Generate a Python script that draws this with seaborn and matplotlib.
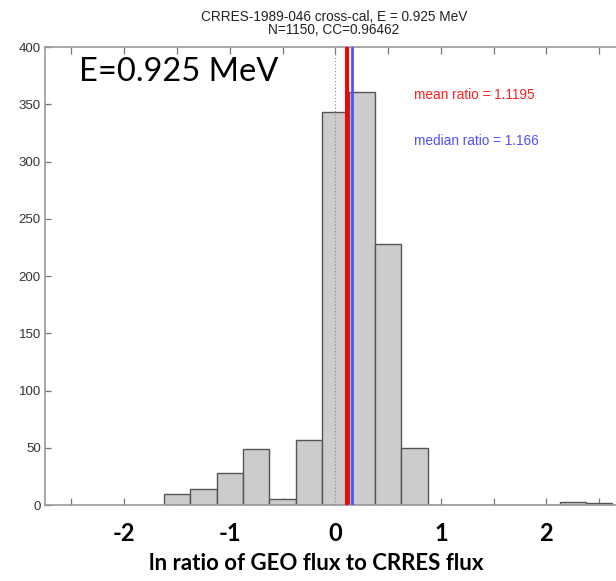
import numpy as np
import pandas as pd
import matplotlib
matplotlib.use("Agg")
import matplotlib.pyplot as plt
import seaborn as sns

# ---- data ----
bin_centers = [-1.5, -1.25, -1.0, -0.75, -0.5, -0.25, 0.0, 0.25, 0.5, 0.75,
               1.0, 1.25, 1.5, 1.75, 2.0, 2.25, 2.5]
counts = [10, 14, 28, 49, 5, 57, 343, 361, 228, 50,
          0, 0, 0, 0, 0, 3, 2]
bin_width = 0.25
mean_ratio = 1.1195
median_ratio = 1.166
title_lines = ["CRRES-1989-046 cross-cal, E = 0.925 MeV", "N=1150, CC=0.96462"]
x_ticklabels = ["-2", "-1", "0", "1", "2"]
x_tickvals = [-2, -1, 0, 1, 2]
y_ticks = [0, 50, 100, 150, 200, 250, 300, 350, 400]
energy_label = "E=0.925 MeV"
xlabel = "ln ratio of GEO flux to CRRES flux"

df = pd.DataFrame({"x": bin_centers, "n": counts})
edges = [c - bin_width / 2 for c in bin_centers] + [bin_centers[-1] + bin_width / 2]

sns.set_style("white")
plt.rcParams["font.family"] = ["Liberation Sans", "DejaVu Sans"]

fig = plt.figure(figsize=(6.16, 5.81), dpi=100)
ax = fig.add_axes([0.0731, 0.1308, 0.9425, 0.788])

sns.histplot(data=df, x="x", weights="n", bins=edges, ax=ax,
             color="#cccccc", edgecolor="#555555", linewidth=1.0, alpha=1.0)

ax.axvline(0, color="#888888", linestyle=(0, (1, 2)), linewidth=0.8, zorder=3)
ax.axvline(np.log(mean_ratio), color="#ff0000", linewidth=2.9, zorder=4)
ax.axvline(np.log(median_ratio), color="#5050ff", linewidth=2.0, zorder=4)

ax.set_xlim(-2.75, 2.75)
ax.set_ylim(0, 400)
ax.set_yticks(y_ticks)
ax.set_yticklabels([str(v) for v in y_ticks], fontsize=9.5, color="#333333")
ax.set_xticks(x_tickvals)
ax.set_xticklabels(x_ticklabels, fontsize=17, fontweight="bold",
                   family=["Lato", "DejaVu Sans"], color="black")
ax.set_xticks([-2.5, -1.5, -0.5, 0.5, 1.5, 2.5], minor=True)
ax.tick_params(axis="both", which="both", direction="in", top=True, right=True,
               bottom=True, left=True, color="#777777", width=0.9)
ax.tick_params(axis="x", which="both", length=5, pad=12)
ax.tick_params(axis="y", length=4, pad=3)
for s in ax.spines.values():
    s.set_color("#999999")
    s.set_linewidth(1.2)

ax.set_xlabel(xlabel, fontsize=16, fontweight="bold",
              family=["Lato", "DejaVu Sans"], color="black")
ax.xaxis.set_label_coords((316 - 45) / 580.6, -0.105)
ax.set_ylabel("")

fig.text(334 / 616, 1 - 17 / 581, title_lines[0], ha="center", va="center",
         fontsize=9.8, color="#222222")
fig.text(334 / 616, 1 - 30 / 581, title_lines[1], ha="center", va="center",
         fontsize=9.8, color="#222222")

ax.text(0.058, 0.978, energy_label, transform=ax.transAxes, ha="left", va="top",
        fontsize=23.5, family=["Lato", "DejaVu Sans"], color="black")
ax.text(0.6355, 0.895, f"mean ratio = {mean_ratio}", transform=ax.transAxes,
        ha="left", va="center", fontsize=9.8, color="#ff2020")
ax.text(0.6355, 0.795, f"median ratio = {median_ratio}", transform=ax.transAxes,
        ha="left", va="center", fontsize=9.8, color="#5050ff")

fig.savefig("out.png", dpi=100)
